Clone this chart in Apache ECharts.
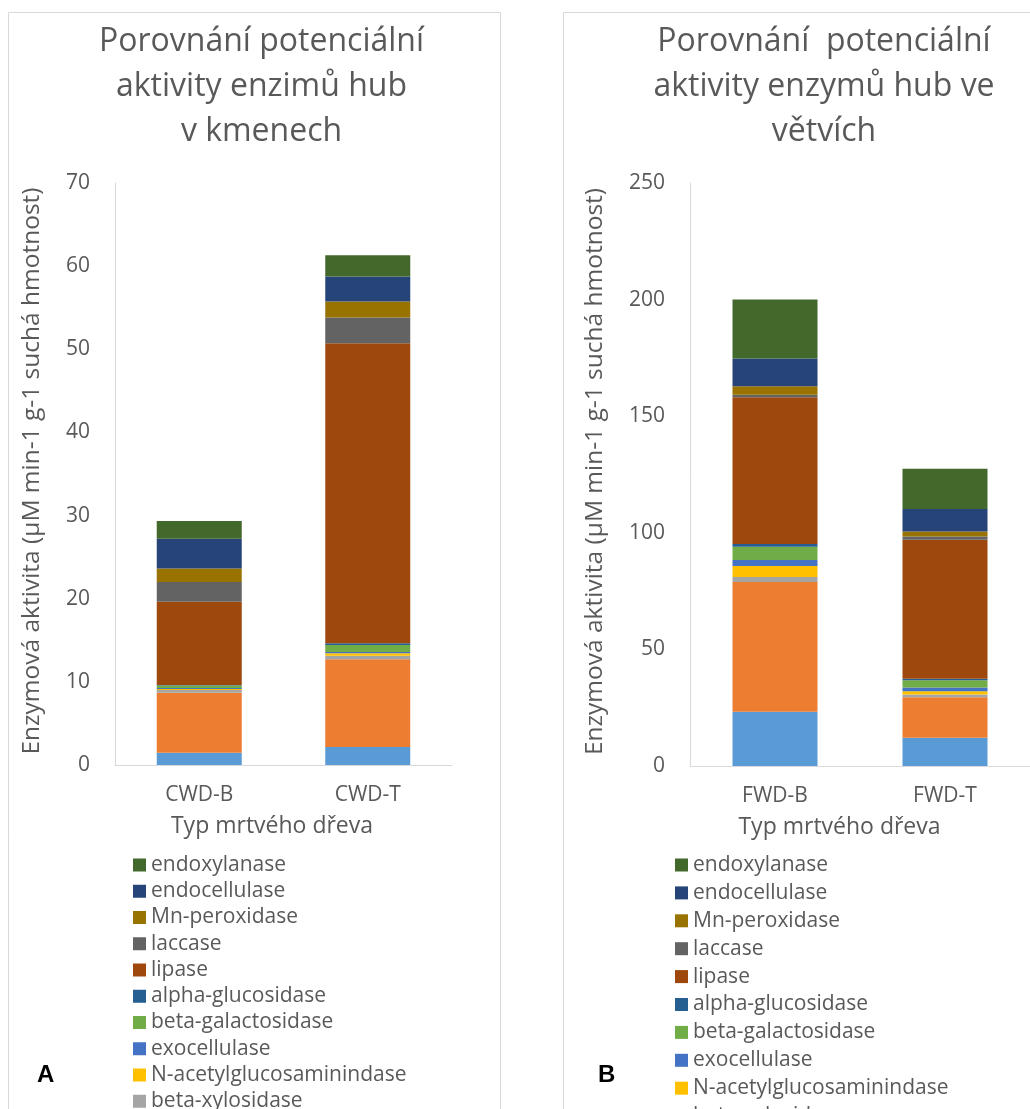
<!DOCTYPE html>
<html>
<head>
<meta charset="utf-8">
<script src="https://cdn.jsdelivr.net/npm/echarts@6/dist/echarts.min.js"></script>
<style>
html,body{margin:0;padding:0;background:#fff;overflow:hidden;}
#chart{width:1030px;height:1109px;}
</style>
</head>
<body>
<div id="chart"></div>
<script>
// ---- data ----
const categoriesA = ['CWD-B', 'CWD-T'];
const categoriesB = ['FWD-B', 'FWD-T'];
const enzymes = ['beta-glucosidase', 'phosphatase', 'beta-xylosidase', 'N-acetylglucosaminindase',
  'exocellulase', 'beta-galactosidase', 'alpha-glucosidase', 'lipase', 'laccase',
  'Mn-peroxidase', 'endocellulase', 'endoxylanase'];
const valuesA = [
  [1.48, 2.17],
  [7.22, 10.54],
  [0.32, 0.43],
  [0.12, 0.29],
  [0.12, 0.16],
  [0.30, 0.84],
  [0.06, 0.20],
  [10.0, 36.1],
  [2.4, 3.08],
  [1.6, 1.93],
  [3.6, 3.0],
  [2.13, 2.57]
];
const valuesB = [
  [23.3, 12.1],
  [55.6, 17.4],
  [2.15, 1.16],
  [4.7, 1.4],
  [2.6, 1.6],
  [5.7, 3.1],
  [1.1, 0.7],
  [63.0, 59.6],
  [1.0, 1.4],
  [3.7, 2.1],
  [11.9, 9.6],
  [25.3, 17.3]
];
const yTicksA = [0, 10, 20, 30, 40, 50, 60, 70];
const yTicksB = [0, 50, 100, 150, 200, 250];
const titleA = 'Porovnání potenciální\naktivity enzimů hub\nv kmenech';
const titleB = 'Porovnání  potenciální\naktivity enzymů hub ve\nvětvích';
const yName = 'Enzymová aktivita (μM min-1 g-1 suchá hmotnost)';
const xName = 'Typ mrtvého dřeva';

// ---- styles ----
const colors = ['#5B9BD5', '#ED7D31', '#A5A5A5', '#FFC000', '#4472C4', '#70AD47',
  '#255E91', '#9E480E', '#636363', '#997300', '#264478', '#43682B'];
const FONT = 'Open Sans';
const TXT = '#595959';
const LINE = '#D9D9D9';

const chart = echarts.init(document.getElementById('chart'), null, {renderer: 'canvas'});

function makeY(idx, ticks, gap) {
  return {
    gridIndex: idx, type: 'value',
    min: ticks[0], max: ticks[ticks.length - 1], interval: ticks[1] - ticks[0],
    axisLine: {show: true, lineStyle: {color: LINE, width: 1}},
    axisTick: {show: false},
    splitLine: {show: false},
    axisLabel: {fontSize: 21, color: TXT, fontFamily: FONT, margin: 25},
    name: yName, nameLocation: 'middle', nameGap: gap,
    nameTextStyle: {fontSize: 24.5, color: TXT, fontFamily: FONT, padding: [0, 0, 0, 6]}
  };
}
function makeX(idx, cats, pad) {
  return {
    gridIndex: idx, type: 'category', data: cats,
    axisLine: {show: true, lineStyle: {color: LINE, width: 1}},
    axisTick: {show: false},
    axisLabel: {fontSize: 21, color: TXT, fontFamily: FONT, margin: 20},
    name: xName, nameLocation: 'middle', nameGap: 50,
    nameTextStyle: {fontSize: 23, color: TXT, fontFamily: FONT, padding: [0, pad, 0, 0]}
  };
}

const series = [];
enzymes.forEach((name, i) => {
  series.push({
    name: name, type: 'bar', stack: 'A', xAxisIndex: 0, yAxisIndex: 0,
    barWidth: 85, data: valuesA[i], itemStyle: {color: colors[i]}
  });
  series.push({
    name: name, type: 'bar', stack: 'B', xAxisIndex: 1, yAxisIndex: 1,
    barWidth: 85, data: valuesB[i], itemStyle: {color: colors[i]}
  });
});

const legendData = enzymes.slice().reverse();
const titleStyle = {fontSize: 32, lineHeight: 45, fontWeight: 'normal', color: TXT, fontFamily: FONT};

chart.setOption({
  animation: false,
  backgroundColor: '#fff',
  title: [
    {text: titleA, left: 261.5, top: 19, textAlign: 'center', padding: 0, textStyle: titleStyle},
    {text: titleB, left: 824, top: 19, textAlign: 'center', padding: 0, textStyle: titleStyle}
  ],
  legend: [
    {orient: 'vertical', left: 133, top: 854.5, width: 360, height: 600, padding: 0, itemWidth: 13, itemHeight: 13,
     itemGap: 5.25, icon: 'rect', data: legendData, selectedMode: false,
     textStyle: {fontSize: 21, lineHeight: 21, color: TXT, fontFamily: FONT}},
    {orient: 'vertical', left: 675, top: 854.5, width: 350, height: 600, padding: 0, itemWidth: 13, itemHeight: 13,
     itemGap: 6.9, icon: 'rect', data: legendData, selectedMode: false,
     textStyle: {fontSize: 21, lineHeight: 21, color: TXT, fontFamily: FONT}}
  ],
  grid: [
    {left: 115, top: 183, width: 337, height: 582},
    {left: 690, top: 183, width: 340, height: 583}
  ],
  xAxis: [makeX(0, categoriesA, 23), makeX(1, categoriesB, 41)],
  yAxis: [makeY(0, yTicksA, 70), makeY(1, yTicksB, 82)],
  graphic: [
    {type: 'rect', z: -10, silent: true, shape: {x: 8.5, y: 12.5, width: 492, height: 1200},
     style: {fill: 'none', stroke: LINE, lineWidth: 1}},
    {type: 'rect', z: -10, silent: true, shape: {x: 563.5, y: 12.5, width: 500, height: 1200},
     style: {fill: 'none', stroke: LINE, lineWidth: 1}},
    {type: 'text', x: 37, y: 1075, style: {text: 'A', fill: '#000', font: 'bold 24px "Liberation Sans", Arial', verticalAlign: 'middle'}},
    {type: 'text', x: 598, y: 1075, style: {text: 'B', fill: '#000', font: 'bold 24px "Liberation Sans", Arial', verticalAlign: 'middle'}}
  ],
  series: series
});
</script>
</body>
</html>
